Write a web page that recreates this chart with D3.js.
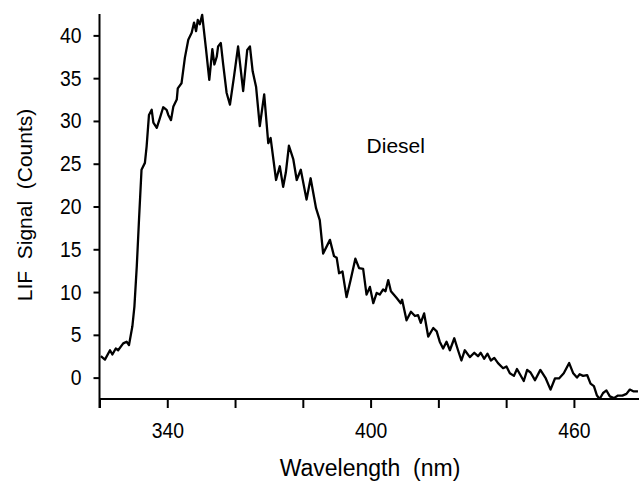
<!DOCTYPE html>
<html>
<head>
<meta charset="utf-8">
<script src="https://d3js.org/d3.v7.min.js"></script>
<style>
  body { margin: 0; background: #fff; }
  text { font-family: "Liberation Sans", Arial, sans-serif; fill: #000; white-space: pre; }
</style>
</head>
<body>
<div class="lif-chart"></div>
<script>
// wavelength (nm)
var wavelength = [320.4, 321.6, 323.1, 323.8, 324.8, 325.5, 327.0, 328.0, 328.7, 329.7,
  330.3, 331.0, 331.7, 332.4, 333.4, 333.9, 334.6, 335.4, 335.9, 336.9,
  337.8, 338.8, 339.8, 340.3, 341.1, 341.8, 342.8, 343.1, 344.2, 345.2,
  346.2, 347.2, 347.9, 348.5, 349.0, 349.6, 350.3, 351.4, 352.4, 353.3,
  353.9, 354.6, 355.0, 355.8, 356.5, 357.5, 358.5, 359.7, 360.9, 362.4,
  363.6, 364.4, 365.2, 366.2, 367.3, 368.6, 369.8, 370.5, 372.1, 373.2,
  374.2, 375.0, 375.9, 377.2, 378.2, 379.4, 381.1, 382.3, 383.9, 385.0,
  386.0, 388.0, 389.2, 390.0, 390.7, 391.7, 392.9, 394.1, 395.5, 396.6,
  397.8, 398.8, 399.8, 400.8, 401.8, 402.7, 403.7, 404.4, 405.2, 406.0,
  407.7, 408.9, 409.3, 410.6, 411.9, 413.1, 414.0, 414.8, 415.8, 417.0,
  418.5, 419.5, 420.4, 421.4, 422.4, 423.4, 424.7, 425.8, 426.8, 427.8,
  429.3, 430.6, 431.7, 432.5, 433.5, 434.5, 435.5, 436.5, 437.6, 439.1,
  440.1, 441.1, 442.3, 443.2, 444.2, 445.2, 446.2, 447.2, 448.5, 450.1,
  451.7, 453.1, 454.4, 455.6, 457.0, 458.6, 459.8, 460.9, 461.7, 462.7,
  463.9, 464.9, 465.9, 466.8, 467.6, 468.6, 469.6, 470.6, 471.8, 473.0,
  474.3, 475.5, 476.5, 477.5, 478.9];

// LIF signal (counts)
var counts = [2.5, 2.1, 3.2, 2.7, 3.4, 3.2, 4.0, 4.2, 3.8, 6.0,
  8.3, 13.0, 18.8, 24.3, 25.1, 27.0, 30.7, 31.3, 29.8, 29.2,
  30.3, 31.6, 31.3, 30.7, 30.1, 31.7, 32.5, 33.8, 34.4, 37.4,
  39.5, 40.3, 41.5, 40.5, 41.8, 41.3, 42.4, 38.5, 34.8, 38.4,
  36.6, 37.5, 38.7, 39.1, 36.6, 33.3, 31.9, 35.2, 38.7, 33.5,
  38.3, 38.7, 35.8, 34.0, 29.4, 33.1, 27.4, 28.0, 23.1, 24.7,
  22.3, 24.0, 27.1, 25.5, 23.1, 24.3, 20.8, 23.3, 19.8, 18.4,
  14.5, 16.1, 14.2, 14.0, 12.2, 12.4, 9.4, 11.4, 13.9, 12.8,
  12.7, 9.7, 10.6, 8.7, 9.9, 9.7, 10.3, 10.1, 11.4, 10.1,
  9.3, 8.7, 9.1, 6.7, 7.7, 7.2, 7.3, 6.4, 7.5, 4.8,
  5.8, 5.4, 4.2, 3.4, 4.2, 3.2, 4.6, 3.2, 2.0, 3.2,
  2.4, 2.9, 2.5, 2.9, 2.2, 2.8, 2.0, 2.3, 1.7, 1.1,
  1.3, 0.5, 0.2, 1.0, 0.3, -0.4, 0.9, 0.6, -0.3, 0.9,
  -0.1, -1.4, -0.1, -0.1, 0.5, 1.7, 0.5, 0.0, 0.4, 0.2,
  0.3, -0.7, -1.0, -2.1, -2.5, -1.8, -1.5, -2.2, -2.4, -2.1,
  -2.1, -1.9, -1.4, -1.6, -1.6];

var xTicks = [320, 340, 360, 380, 400, 420, 440, 460];
var xTickLabels = [340, 400, 460];
var yTicks = [0, 5, 10, 15, 20, 25, 30, 35, 40];
var sampleLabel = "Diesel";

var width = 639,
    height = 481,
    squeeze = 0.88;   // the original lettering is a narrow face

var x = d3.scaleLinear()
    .domain([320, 479.5])
    .range([99.5, 640]);

var y = d3.scaleLinear()
    .domain([-2.5, 42.5])
    .range([399, 14]);

var svg = d3.select(".lif-chart").append("svg")
    .attr("width", width)
    .attr("height", height);

svg.append("defs").append("clipPath")
    .attr("id", "plot-clip")
  .append("rect")
    .attr("x", x(320))
    .attr("y", 0)
    .attr("width", width - x(320))
    .attr("height", y(-2.5) + 1);

// y axis
var yAxis = d3.axisLeft(y)
    .tickValues(yTicks)
    .tickSize(6)
    .tickPadding(12)
    .tickFormat(d3.format("d"));

var gy = svg.append("g")
    .attr("transform", "translate(" + x(320) + ",0)")
    .call(yAxis);

gy.select(".domain").remove();
gy.append("line")
    .attr("x1", 0).attr("x2", 0)
    .attr("y1", y(42.5)).attr("y2", y(-2.5) + 9)
    .attr("stroke", "#000")
    .attr("stroke-width", 2);
gy.selectAll(".tick line").attr("stroke-width", 2);
gy.selectAll(".tick text")
    .style("font-size", "22px")
    .attr("x", -18 / squeeze)
    .attr("transform", "scale(" + squeeze + ",1)");

// x axis
var xAxis = d3.axisBottom(x)
    .tickValues(xTicks)
    .tickSize(9)
    .tickPadding(14)
    .tickFormat(function(d) { return xTickLabels.indexOf(d) >= 0 ? d : ""; });

var gx = svg.append("g")
    .attr("transform", "translate(0," + y(-2.5) + ")")
    .call(xAxis);

gx.select(".domain").remove();
gx.append("line")
    .attr("x1", x(320)).attr("x2", width)
    .attr("y1", 0).attr("y2", 0)
    .attr("stroke", "#000")
    .attr("stroke-width", 2);
gx.selectAll(".tick line").attr("stroke-width", 2);
gx.selectAll(".tick text")
    .style("font-size", "22px")
    .attr("transform", "scale(" + squeeze + ",1)");

// trace
var points = wavelength.map(function(d, i) { return [d, counts[i]]; });

var line = d3.line()
    .x(function(d) { return x(d[0]); })
    .y(function(d) { return y(d[1]); });

svg.append("path")
    .datum(points)
    .attr("clip-path", "url(#plot-clip)")
    .attr("d", line)
    .attr("fill", "none")
    .attr("stroke", "#000")
    .attr("stroke-width", 2.3)
    .attr("stroke-linejoin", "round");

svg.append("text")
    .attr("x", x(400) - 4)
    .attr("y", y(26.3))
    .style("font-size", "21px")
    .text(sampleLabel);

// axis titles
svg.append("text")
    .attr("x", 370)
    .attr("y", 476)
    .attr("text-anchor", "middle")
    .style("font-size", "23px")
    .text("Wavelength  (nm)");

svg.append("text")
    .attr("transform", "translate(32,205) rotate(-90)")
    .attr("text-anchor", "middle")
    .style("font-size", "21px")
    .text("LIF  Signal  (Counts)");
</script>
</body>
</html>
